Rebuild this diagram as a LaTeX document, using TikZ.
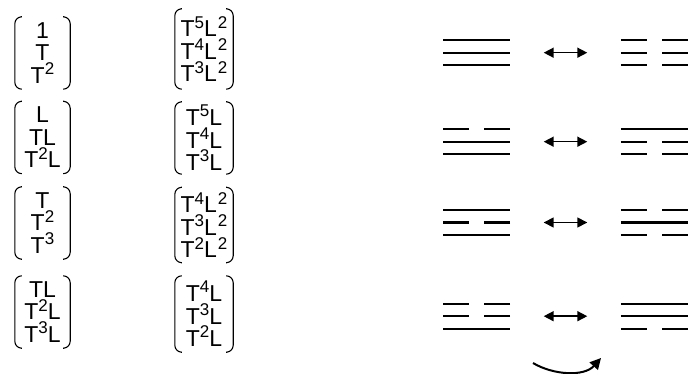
\documentclass[tikz,border=0pt]{standalone}
\usepackage{fontspec}
\setmainfont{Liberation Sans}
\usetikzlibrary{arrows.meta}
\newcommand\sq[1]{\raisebox{0.38em}{\fontsize{17}{17}\selectfont #1}}
\newcommand\yaoline[3]{%
  \ifnum#3=1 \draw[bar] (#1) -- (#2);%
  \else \draw[bar] (#1) -- ++(26,0); \draw[bar] (#2) -- ++(-26,0);\fi}
\newcommand\trigram[4]{%
  \yaoline{#1.north west}{#1.north east}{#2}%
  \yaoline{#1.west}{#1.east}{#3}%
  \yaoline{#1.south west}{#1.south east}{#4}}
\newcommand\mparens[1]{%
  \draw[paren] ([xshift=6pt]#1.north west) -- (#1.north west) -- (#1.south west) -- ([xshift=6pt]#1.south west);
  \draw[paren] ([xshift=-6pt]#1.north east) -- (#1.north east) -- (#1.south east) -- ([xshift=-6pt]#1.south east);}
\begin{document}
\begin{tikzpicture}[x=1pt,y=-1pt,
  mat/.style={inner sep=0pt, minimum height=72pt, align=center,
    font={\fontsize{23}{22.5}\selectfont\lineskiplimit=-100pt}},
  lmat/.style={mat, minimum width=55pt},
  rmat/.style={mat, minimum width=58pt},
  paren/.style={line width=1.1pt, rounded corners=7pt},
  tri/.style={inner sep=0pt, minimum width=66.5pt, minimum height=24.4pt},
  bar/.style={line width=2.2pt},
  dbl/.style={line width=1.5pt, {Triangle[length=10pt,width=10pt]}-{Triangle[length=10pt,width=10pt]},
    shorten <=33.5pt, shorten >=33.5pt},
  curv/.style={line width=2pt, -{Triangle[length=11pt,width=11pt]}}
]
\useasboundingbox (0,0) rectangle (688,374);

% left column matrices
\node[lmat] (a1) at (42.5,53) {1\\T\\T\sq{2}};
\node[lmat] (a2) at (42.5,137.5) {L\\TL\\T\sq{2}L};
\node[lmat] (a3) at (42.5,223) {T\\T\sq{2}\\T\sq{3}};
\node[lmat] (a4) at (42.5,312) {TL\\T\sq{2}L\\T\sq{3}L};
% right column matrices
\node[rmat, minimum height=80pt] (b1) at (204,49) {T\sq{5}L\kern1pt\sq{2}\\T\sq{4}L\kern1pt\sq{2}\\T\sq{3}L\kern1pt\sq{2}};
\node[rmat] (b2) at (204,138) {T\sq{5}L\\T\sq{4}L\\T\sq{3}L};
\node[rmat, minimum height=75pt] (b3) at (204,225) {T\sq{4}L\kern1pt\sq{2}\\T\sq{3}L\kern1pt\sq{2}\\T\sq{2}L\kern1pt\sq{2}};
\node[rmat, minimum height=76pt] (b4) at (204,314) {T\sq{4}L\\T\sq{3}L\\T\sq{2}L};
\foreach \m in {a1,a2,a3,a4,b1,b2,b3,b4} {\mparens{\m}}

% trigrams
\node[tri] (l1) at (476.75,52.7) {};
\node[tri] (r1) at (654.25,52.7) {};
\node[tri] (l2) at (476.75,141.7) {};
\node[tri] (r2) at (654.25,141.7) {};
\node[tri] (l3) at (476.75,222.5) {};
\node[tri] (r3) at (654.25,222.5) {};
\node[tri] (l4) at (476.75,316.2) {};
\node[tri] (r4) at (654.25,316.2) {};
\trigram{l1}{1}{1}{1}
\trigram{r1}{0}{0}{0}
\trigram{l2}{0}{1}{1}
\trigram{r2}{1}{0}{0}
\trigram{l3}{1}{0}{1}
\trigram{r3}{0}{1}{0}
\trigram{l4}{0}{0}{1}
\trigram{r4}{1}{1}{0}

% double arrows
\draw[dbl] (l1.east) -- (r1.west);
\draw[dbl] (l2.east) -- (r2.west);
\draw[dbl] (l3.east) -- (r3.west);
\draw[dbl] (l4.east) -- (r4.west);

% curved arrow
\coordinate (ca) at (533,363);
\coordinate (cb) at (601,358);
\draw[curv] (ca) .. controls (553,375) and (584,377) .. (cb);
\end{tikzpicture}
\end{document}
